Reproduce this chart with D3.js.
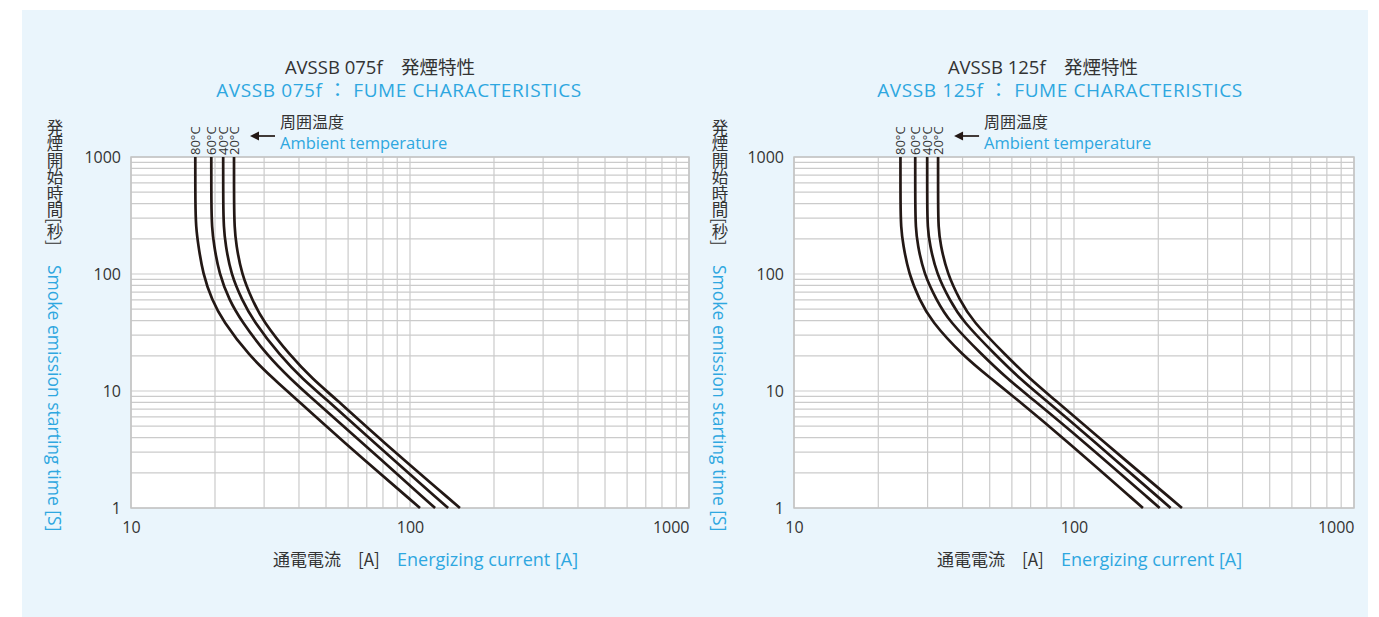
<!DOCTYPE html>
<html>
<head>
<meta charset="utf-8">
<script src="https://cdn.jsdelivr.net/npm/d3@7"></script>
<style>
  html, body { margin: 0; padding: 0; background: #ffffff; }
  svg { display: block; }
</style>
</head>
<body>
<svg id="chart" width="1379" height="617"></svg>
<script>
// ---------- DATA ----------
const xTickValues = [10, 100, 1000];
const yTickValues = [1, 10, 100, 1000];
const temperatureLabels = ["80°C", "60°C", "40°C", "20°C"];

const titles075 = ["AVSSB 075f　発煙特性", "AVSSB 075f ： FUME CHARACTERISTICS"];
const titles125 = ["AVSSB 125f　発煙特性", "AVSSB 125f ： FUME CHARACTERISTICS"];

const yLabelJa = "発煙開始時間[秒]";
const yLabelEn = "Smoke emission starting time [S]";
const xLabelJa = "通電電流　[A]";
const xLabelEn = "Energizing current [A]";
const ambientJa = "周囲温度";
const ambientEn = "Ambient temperature";

// [current A, time s]
const avssb075_80C = [[17.0,1000],[17.0,400],[17.1,250],[17.4,180],[18.1,100],[19.5,60],[21.3,40],[26.5,20],[32.8,12.4],[38.2,8.95],[55.8,3.94],[108.6,1]];
const avssb075_60C = [[19.4,1000],[19.4,400],[19.5,250],[19.8,180],[20.7,100],[22.5,60],[24.8,40],[30.8,20],[37.7,12.4],[43.8,8.95],[64.7,3.94],[123,1]];
const avssb075_40C = [[21.4,1000],[21.4,400],[21.5,250],[21.8,180],[22.8,100],[25.0,60],[27.4,40],[34.2,20],[41.6,12.4],[48.9,8.95],[71.5,3.94],[137,1]];
const avssb075_20C = [[23.4,1000],[23.4,400],[23.5,250],[23.8,180],[24.9,100],[27.2,60],[29.6,40],[37.2,20],[45.2,12.4],[53.1,8.95],[77.3,3.94],[151,1]];

const avssb125_80C = [[24.0,1000],[24.0,400],[24.1,250],[24.5,180],[25.7,100],[28.1,60],[30.8,40],[40.1,20],[51.4,12.4],[60.8,8.95],[91.9,3.94],[176.3,1]];
const avssb125_60C = [[27.1,1000],[27.1,400],[27.2,250],[27.6,180],[29.1,100],[32.3,60],[35.6,40],[47.3,20],[58.6,12.4],[69.3,8.95],[105,3.94],[202.3,1]];
const avssb125_40C = [[29.9,1000],[29.9,400],[30.0,250],[30.5,180],[32.3,100],[36.0,60],[39.8,40],[52.8,20],[64.9,12.4],[76.5,8.95],[114.7,3.94],[221.4,1]];
const avssb125_20C = [[32.7,1000],[32.7,400],[32.8,250],[33.3,180],[35.3,100],[39.1,60],[43.2,40],[57.3,20],[70.4,12.4],[82.8,8.95],[123.5,3.94],[243,1]];

// ---------- STYLE ----------
const BLUE = "#2ea7e0";
const DARK = "#333333";
const CURVE = "#231815";
const GRID = "#cbcbcb";
const FONT = "'Open Sans', 'Noto Sans CJK JP', sans-serif";
const FONT_JA = "'Noto Sans CJK JP', sans-serif";

const svg = d3.select("#chart");
svg.append("rect").attr("x", 22).attr("y", 10).attr("width", 1346).attr("height", 607).attr("fill", "#eaf5fc");

function drawChart(opt) {
  const g = svg.append("g");
  const x = d3.scaleLog().domain([10, 1000]).range([opt.left, opt.right]);
  const y = d3.scaleLog().domain([1, 1000]).range([508, 157]);

  g.append("rect").attr("x", opt.left).attr("y", 157)
    .attr("width", opt.right - opt.left).attr("height", 351).attr("fill", "#ffffff");

  // grid
  const xGrid = [];
  [10, 100].forEach(d => { for (let k = 1; k <= 10; k++) xGrid.push(d * k); });
  const yGrid = [];
  [1, 10, 100].forEach(d => { for (let k = 1; k <= 10; k++) yGrid.push(d * k); });
  g.append("g").selectAll("line").data(Array.from(new Set(xGrid))).join("line")
    .attr("x1", d => x(d)).attr("x2", d => x(d)).attr("y1", 157).attr("y2", 508)
    .attr("stroke", GRID).attr("stroke-width", 1.2);
  g.append("g").selectAll("line").data(Array.from(new Set(yGrid))).join("line")
    .attr("y1", d => y(d)).attr("y2", d => y(d)).attr("x1", opt.left).attr("x2", opt.right)
    .attr("stroke", GRID).attr("stroke-width", 1.2);
  g.append("rect").attr("x", opt.left).attr("y", 157)
    .attr("width", opt.right - opt.left).attr("height", 351)
    .attr("fill", "none").attr("stroke", "#c4c4c4").attr("stroke-width", 1.5);

  // axes (labels only)
  const yAxis = d3.axisLeft(y).tickValues(yTickValues).tickFormat(d3.format("d")).tickSize(0).tickPadding(10);
  const ya = g.append("g").attr("transform", `translate(${opt.left},0)`).call(yAxis);
  ya.select(".domain").remove();
  ya.selectAll("text").attr("font-family", FONT).attr("font-size", 16).attr("fill", DARK);

  const xAxis = d3.axisBottom(x).tickValues(xTickValues).tickFormat(d3.format("d")).tickSize(0).tickPadding(14);
  const xa = g.append("g").attr("transform", `translate(0,508)`).call(xAxis);
  xa.select(".domain").remove();
  xa.selectAll("text").attr("font-family", FONT).attr("font-size", 16).attr("fill", DARK);
  xa.selectAll(".tick").filter(d => d === 1000).select("text").attr("text-anchor", "end").attr("dx", 0);

  // curves
  const line = d3.line().x(d => x(d[0])).y(d => y(d[1])).curve(d3.curveBasis);
  g.append("g").selectAll("path").data(opt.series).join("path")
    .attr("d", line).attr("fill", "none").attr("stroke", CURVE).attr("stroke-width", 2.7);

  // temperature labels
  g.append("g").selectAll("text").data(opt.series).join("text")
    .attr("transform", d => `translate(${x(d[0][0])},155) rotate(-90)`)
    .attr("dominant-baseline", "central")
    .attr("font-family", FONT).attr("font-size", 13).attr("fill", DARK)
    .text((d, i) => temperatureLabels[i]);

  // arrow + ambient text
  const lastX = x(opt.series[3][0][0]);
  const ax0 = lastX + 16, ax1 = lastX + 41, ay = 136;
  g.append("line").attr("x1", ax0 + 6).attr("x2", ax1).attr("y1", ay).attr("y2", ay)
    .attr("stroke", "#231815").attr("stroke-width", 1.7);
  g.append("path").attr("d", `M${ax0},${ay} L${ax0 + 9},${ay - 4.5} L${ax0 + 9},${ay + 4.5} Z`).attr("fill", "#231815");
  g.append("text").attr("x", ax1 + 5).attr("y", 128).attr("font-family", FONT_JA).attr("font-size", 16)
    .attr("fill", DARK).text(ambientJa);
  g.append("text").attr("x", ax1 + 5).attr("y", 149).attr("font-family", FONT).attr("font-size", 16.5)
    .attr("fill", BLUE).text(ambientEn);

  // titles
  g.append("text").attr("x", opt.titleX).attr("y", 74).attr("text-anchor", "middle")
    .attr("font-family", FONT).attr("font-size", 18.5).attr("fill", DARK).text(opt.titles[0]);
  g.append("text").attr("x", opt.subX).attr("y", 97).attr("text-anchor", "middle")
    .attr("font-family", FONT).attr("font-size", 19).attr("letter-spacing", 0.6).attr("fill", BLUE).text(opt.titles[1]);

  // y labels
  g.append("text").attr("x", opt.yLabX).attr("y", 119)
    .style("writing-mode", "vertical-rl").attr("font-family", FONT_JA).attr("font-size", 16.5)
    .attr("fill", DARK).text(yLabelJa);
  g.append("text").attr("transform", `translate(${opt.yLabX},265) rotate(90)`)
    .attr("dominant-baseline", "central")
    .attr("font-family", FONT).attr("font-size", 17.5).attr("fill", BLUE).text(yLabelEn);

  // x labels
  g.append("text").attr("x", opt.xLabX).attr("y", 566).attr("font-family", FONT_JA).attr("font-size", 17)
    .attr("fill", DARK).text(xLabelJa);
  g.append("text").attr("x", opt.xLabX + 124).attr("y", 566).attr("font-family", FONT).attr("font-size", 18)
    .attr("fill", BLUE).text(xLabelEn);
}

drawChart({ left: 131, right: 689, titles: titles075, titleX: 380, subX: 399, yLabX: 55, xLabX: 273,
  series: [avssb075_80C, avssb075_60C, avssb075_40C, avssb075_20C] });
drawChart({ left: 794, right: 1354, titles: titles125, titleX: 1043, subX: 1060, yLabX: 720, xLabX: 937,
  series: [avssb125_80C, avssb125_60C, avssb125_40C, avssb125_20C] });
</script>
</body>
</html>
